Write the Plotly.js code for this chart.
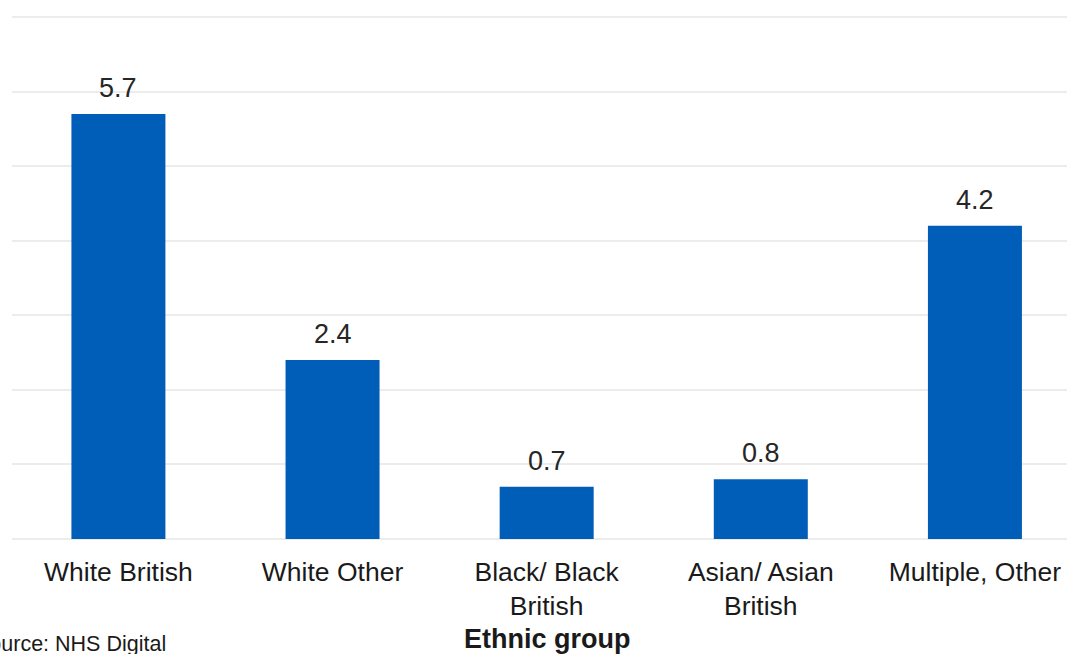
<!DOCTYPE html>
<html>
<head>
<meta charset="utf-8">
<script src="https://cdn.plot.ly/plotly-3.0.1.min.js"></script>
<style>html,body{margin:0;padding:0;background:#fff;}#chart{width:1067px;height:654px;}</style>
</head>
<body>
<div id="chart"></div>
<script>
const categories = ["White British", "White Other", "Black/ Black<br>British", "Asian/ Asian<br>British", "Multiple, Other"];
const values = [5.7, 2.4, 0.7, 0.8, 4.2];
const valueLabels = ["5.7", "2.4", "0.7", "0.8", "4.2"];
const xTitle = "Ethnic group";
const sourceText = "Source: NHS Digital";

const FONT = "Liberation Sans, Arial, sans-serif";
const trace = {
  type: "bar",
  x: categories,
  y: values,
  marker: {color: "#005EB8"},
  hoverinfo: "x+y"
};

const annotations = categories.map((c, i) => ({
  x: c, y: values[i], xref: "x", yref: "y",
  text: valueLabels[i], showarrow: false,
  yanchor: "bottom", yshift: 9,
  font: {family: FONT, size: 27, color: "#262626"}
}));
annotations.push({
  x: categories[2], xref: "x", y: -0.19, yref: "paper",
  text: "<b>" + xTitle + "</b>", showarrow: false,
  yanchor: "middle",
  font: {family: FONT, size: 27, color: "#1a1a1a"}
});
annotations.push({
  x: -0.037, xref: "paper", xanchor: "left", y: -0.2, yref: "paper",
  yanchor: "middle", text: sourceText, showarrow: false,
  font: {family: FONT, size: 21.5, color: "#1a1a1a"}
});

const layout = {
  width: 1067, height: 654,
  margin: {l: 12, r: 0, t: 13, b: 115},
  paper_bgcolor: "#ffffff", plot_bgcolor: "#ffffff",
  bargap: 0.561,
  showlegend: false,
  xaxis: {
    type: "category",
    range: [-0.497, 4.43],
    showgrid: false, zeroline: false, showline: false,
    ticks: "",
    ticklabelstandoff: 14,
    tickfont: {family: FONT, size: 26.5, color: "#1a1a1a"},
    fixedrange: true
  },
  yaxis: {
    range: [0, 7.054],
    dtick: 1,
    showticklabels: false,
    showgrid: true, gridcolor: "#ececec", gridwidth: 2,
    zeroline: true, zerolinecolor: "#ececec", zerolinewidth: 2,
    fixedrange: true
  },
  annotations: annotations
};

Plotly.newPlot("chart", [trace], layout, {displayModeBar: false, staticPlot: true});
</script>
</body>
</html>
